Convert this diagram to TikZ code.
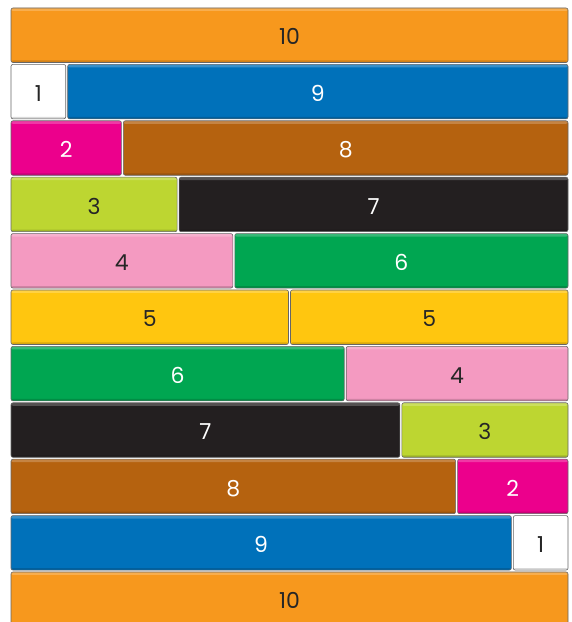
\documentclass[tikz,border=0pt]{standalone}
\usepackage{fontspec}
\setmainfont{Poppins}
\usepackage{tikz}

\definecolor{rodorange}{HTML}{F7981D}
\definecolor{rodblue}{HTML}{0071BA}
\definecolor{rodmagenta}{HTML}{EC008C}
\definecolor{rodbrown}{HTML}{B5620F}
\definecolor{rodlime}{HTML}{BDD631}
\definecolor{rodblack}{HTML}{231F20}
\definecolor{rodpink}{HTML}{F49AC1}
\definecolor{rodgreen}{HTML}{00A651}
\definecolor{rodyellow}{HTML}{FFC60F}
\definecolor{rodwhite}{HTML}{FFFFFF}

\begin{document}
\begin{tikzpicture}[
    x=1pt, y=1pt,
    rod/.style={
      draw=black!60,
      line width=0.6pt,
      rounded corners=2pt,
      inner sep=0pt,
      outer sep=0pt,
      minimum height=54.5pt,
      text height=19.4pt,
      text depth=0pt,
      font=\fontsize{22}{24}\selectfont,
      path picture={
        \fill[white,opacity=0.22]
          (path picture bounding box.north west)
          rectangle ([yshift=-3pt]path picture bounding box.north east);
        \fill[black,opacity=0.15]
          (path picture bounding box.south west)
          rectangle ([yshift=2pt]path picture bounding box.south east);
      }
    },
    lrod/.style={rod, anchor=west},
    rrod/.style={rod, anchor=east},
    dark/.style={text=black!85},
    light/.style={text=white}
  ]
    \useasboundingbox (0,0) rectangle (572,622);

    % top row: one full rod
    \node[lrod, dark, fill=rodorange, minimum width=557pt] (ten top) at (11,586.75) {10};

    % pairs that make ten
    \node[lrod, dark, fill=rodwhite, minimum width=54.7pt] (one a) at (11,530.35) {1};
    \node[rrod, light, fill=rodblue, minimum width=500.3pt] (nine a) at (568,530.35) {9};

    \node[lrod, light, fill=rodmagenta, minimum width=110.4pt] (two a) at (11,473.95) {2};
    \node[rrod, light, fill=rodbrown, minimum width=444.6pt] (eight a) at (568,473.95) {8};

    \node[lrod, dark, fill=rodlime, minimum width=166.1pt] (three a) at (11,417.55) {3};
    \node[rrod, light, fill=rodblack, minimum width=388.9pt] (seven a) at (568,417.55) {7};

    \node[lrod, dark, fill=rodpink, minimum width=221.8pt] (four a) at (11,361.15) {4};
    \node[rrod, light, fill=rodgreen, minimum width=333.2pt] (six a) at (568,361.15) {6};

    \node[lrod, dark, fill=rodyellow, minimum width=277.5pt] (five a) at (11,304.75) {5};
    \node[rrod, dark, fill=rodyellow, minimum width=277.5pt] (five b) at (568,304.75) {5};

    \node[lrod, light, fill=rodgreen, minimum width=333.2pt] (six b) at (11,248.35) {6};
    \node[rrod, dark, fill=rodpink, minimum width=221.8pt] (four b) at (568,248.35) {4};

    \node[lrod, light, fill=rodblack, minimum width=388.9pt] (seven b) at (11,191.95) {7};
    \node[rrod, dark, fill=rodlime, minimum width=166.1pt] (three b) at (568,191.95) {3};

    \node[lrod, light, fill=rodbrown, minimum width=444.6pt] (eight b) at (11,135.55) {8};
    \node[rrod, light, fill=rodmagenta, minimum width=110.4pt] (two b) at (568,135.55) {2};

    \node[lrod, light, fill=rodblue, minimum width=500.3pt] (nine b) at (11,79.15) {9};
    \node[rrod, dark, fill=rodwhite, minimum width=54.7pt] (one b) at (568,79.15) {1};

    % bottom row, cut by the page edge
    \node[lrod, dark, fill=rodorange, minimum width=557pt] (ten bottom) at (11,22.75) {10};
  \end{tikzpicture}
\end{document}
